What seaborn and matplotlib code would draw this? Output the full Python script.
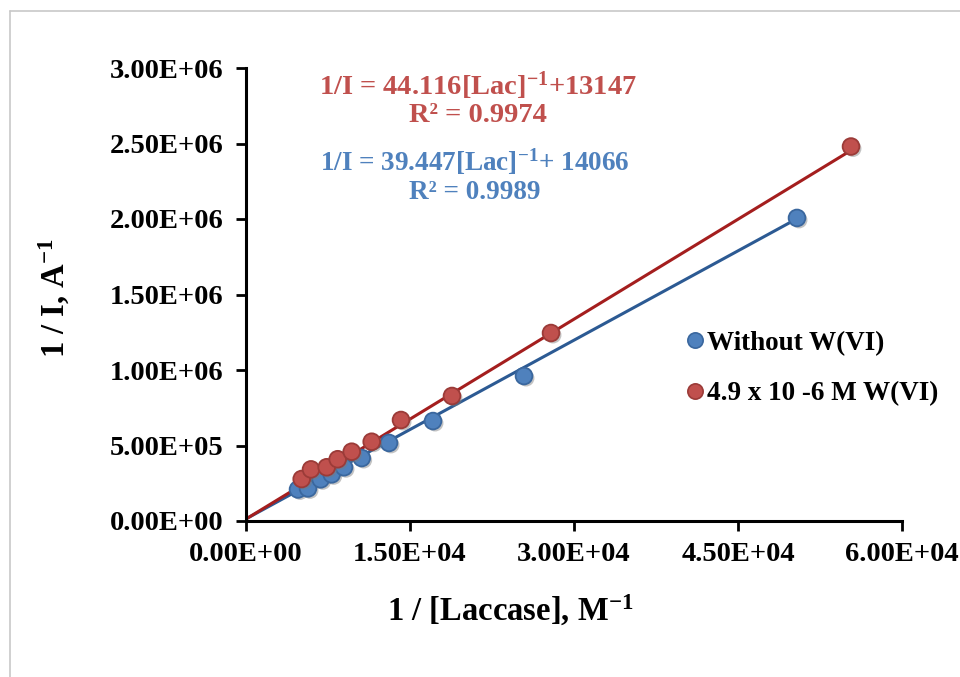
import numpy as np
import pandas as pd
import seaborn as sns
import matplotlib.pyplot as plt
from matplotlib import patheffects as pe
from matplotlib.lines import Line2D

# Lineweaver-Burk style data: 1/[Laccase] (M^-1) vs 1/I (A^-1)
x_without = [4756, 5671, 6832, 7838, 8963, 10582, 13079, 17104, 25427, 50396]
y_without = [0.209e6, 0.216e6, 0.276e6, 0.309e6, 0.356e6, 0.417e6, 0.517e6, 0.662e6, 0.960e6, 2.007e6]
x_with = [5094, 5945, 7381, 8387, 9668, 11497, 14177, 18841, 27896, 55335]
y_with = [0.278e6, 0.342e6, 0.356e6, 0.409e6, 0.459e6, 0.525e6, 0.669e6, 0.828e6, 1.245e6, 2.480e6]

series_names = ["Without W(VI)", "4.9 x 10 -6 M W(VI)"]
slopes = [39.447, 44.116]
intercepts = [14066, 13147]
r2_values = [0.9989, 0.9974]

x_ticks = [0, 15000, 30000, 45000, 60000]
x_tick_labels = ["0.00E+00", "1.50E+04", "3.00E+04", "4.50E+04", "6.00E+04"]
y_ticks = [0, 0.5e6, 1.0e6, 1.5e6, 2.0e6, 2.5e6, 3.0e6]
y_tick_labels = ["0.00E+00", "5.00E+05", "1.00E+06", "1.50E+06", "2.00E+06", "2.50E+06", "3.00E+06"]

marker_fill = ["#4F81BD", "#C0504D"]
marker_edge = ["#3A679E", "#9B3B38"]
line_colors = ["#2C5A93", "#A41E1E"]
text_colors = ["#4F81BD", "#C0504D"]

sns.set_theme(style="white")
plt.rcParams["font.family"] = ["Liberation Serif", "DejaVu Serif"]
plt.rcParams["font.weight"] = "bold"
plt.rcParams["text.color"] = "black"
plt.rcParams["axes.labelcolor"] = "black"
plt.rcParams["xtick.color"] = "black"
plt.rcParams["ytick.color"] = "black"
plt.rcParams["mathtext.fontset"] = "custom"
plt.rcParams["mathtext.rm"] = "Liberation Serif:bold"
plt.rcParams["mathtext.bf"] = "Liberation Serif:bold"
plt.rcParams["mathtext.it"] = "Liberation Serif:bold"

df = pd.DataFrame({
    "x": x_without + x_with,
    "y": y_without + y_with,
    "series": [series_names[0]] * len(x_without) + [series_names[1]] * len(x_with),
})

fig = plt.figure(figsize=(9.6, 6.77), dpi=100)
ax = fig.add_axes([246 / 960, 1 - 521 / 677, 656 / 960, 453 / 677])

# trendlines from the stated regression equations
for i, name in enumerate(series_names):
    xs = df.loc[df.series == name, "x"]
    xl = np.array([0.0, xs.max()])
    line_df = pd.DataFrame({"x": xl, "y": slopes[i] * xl + intercepts[i]})
    sns.lineplot(data=line_df, x="x", y="y", ax=ax, color=line_colors[i],
                 linewidth=2.2, zorder=2, legend=False)

shadow = [pe.SimplePatchShadow(offset=(1.5, -1.5), shadow_rgbFace="#7a7a7a", alpha=0.45), pe.Normal()]
for i, name in enumerate(series_names):
    sub = df[df.series == name]
    sns.scatterplot(data=sub, x="x", y="y", ax=ax, color=marker_fill[i],
                    edgecolor=marker_edge[i], linewidth=1.3, s=145,
                    zorder=3, legend=False)
for coll in ax.collections:
    coll.set_path_effects(shadow)

ax.set_xlim(0, 60000)
ax.set_ylim(0, 3.0e6)
ax.set_xticks(x_ticks)
ax.set_xticklabels(x_tick_labels, fontsize=20.5, fontweight="bold")
ax.set_yticks(y_ticks)
ax.set_yticklabels(y_tick_labels, fontsize=20.5, fontweight="bold")
ax.tick_params(axis="both", direction="out", length=7, width=2, color="black",
               labelcolor="black", left=True, bottom=True)
ax.tick_params(axis="y", pad=9)
ax.tick_params(axis="x", pad=8)

for side in ["top", "right"]:
    ax.spines[side].set_visible(False)
for side in ["left", "bottom"]:
    ax.spines[side].set_color("black")
    ax.spines[side].set_linewidth(2.2)

ax.set_xlabel("1 / [Laccase], M$^{-1}$", fontsize=23.5, fontweight="bold")
ax.set_ylabel("1 / I, A$^{-1}$", fontsize=23.5, fontweight="bold")
ax.xaxis.set_label_coords((510 - 246) / 656, -(610 - 521) / 453)
ax.xaxis.label.set_va("center")
ax.yaxis.set_label_coords(-(246 - 54) / 656, (521 - 298) / 453)
ax.yaxis.label.set_va("center")

# regression annotations
eq_texts = [
    "1/I = {:.3f}[Lac]$^{{-1}}$+ {:d}".format(slopes[0], intercepts[0]),
    "1/I = {:.3f}[Lac]$^{{-1}}$+{:d}".format(slopes[1], intercepts[1]),
]
eq_rows = [(475, 162, 193, 19.5), (478, 86, 116, 20.5)]
for i in range(2):
    cx, y1, y2, fs = eq_rows[i]
    fig.text(cx / 960, 1 - y1 / 677, eq_texts[i], color=text_colors[i], fontsize=fs,
             fontweight="bold", ha="center", va="center")
    fig.text(cx / 960, 1 - y2 / 677, "R² = {:.4f}".format(r2_values[i]), color=text_colors[i],
             fontsize=fs, fontweight="bold", ha="center", va="center")

# legend
handles = [Line2D([0], [0], marker="o", linestyle="none", markersize=11,
                  markerfacecolor=marker_fill[i], markeredgecolor=marker_edge[i],
                  markeredgewidth=1.2) for i in range(2)]
leg = fig.legend(handles, series_names, loc="upper left",
                 bbox_to_anchor=(664 / 960, 1 - 320 / 677), frameon=False,
                 prop={"family": "Liberation Serif", "weight": "bold", "size": 19.5},
                 handletextpad=-0.3, labelspacing=0.95, handlelength=1.5, borderaxespad=0)

# outer frame lines (left and top)
fig.add_artist(Line2D([10 / 960, 10 / 960], [0, 1 - 11 / 677], color="#c8c8c8", linewidth=1.2))
fig.add_artist(Line2D([10 / 960, 1], [1 - 11 / 677, 1 - 11 / 677], color="#c8c8c8", linewidth=1.2))

fig.savefig("out.png", dpi=100, facecolor="white")
